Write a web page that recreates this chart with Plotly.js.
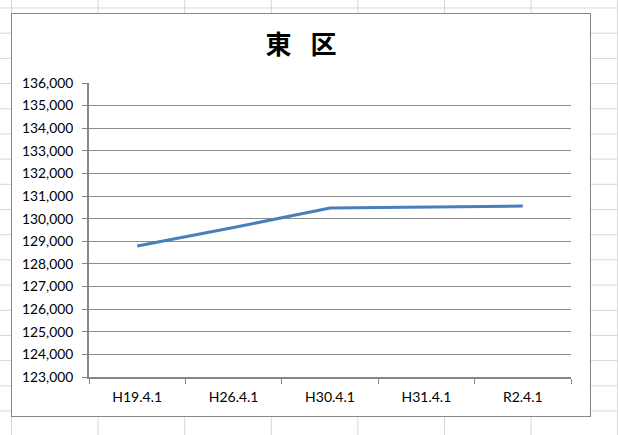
<!DOCTYPE html>
<html>
<head>
<meta charset="utf-8">
<script src="https://cdn.plot.ly/plotly-3.0.1.min.js"></script>
<style>
  html, body { margin:0; padding:0; width:618px; height:435px; overflow:hidden; }
  body {
    background-color:#ffffff;
    background-image:
      linear-gradient(to right, #d6d6d6 1px, transparent 1px),
      linear-gradient(to bottom, #d6d6d6 1px, transparent 1px);
    background-size: 86.6px 25.2px;
    background-position: 11px 7.5px;
  }
  #box {
    position:absolute; left:11px; top:13px;
    width:578px; height:402px;
    border:1px solid #868686;
    background:#ffffff;
  }
  #chart { width:578px; height:402px; }
</style>
</head>
<body>
<div id="box"><div id="chart"></div></div>
<script>
const categories = ["H19.4.1", "H26.4.1", "H30.4.1", "H31.4.1", "R2.4.1"];
const population = [128790, 129610, 130470, 130520, 130560];
const titleText = "東\u2002 区";

const trace = {
  x: categories,
  y: population,
  type: "scatter",
  mode: "lines",
  line: { color: "#4a7ebb", width: 3 },
  hoverinfo: "skip"
};

const layout = {
  width: 578,
  height: 402,
  margin: { l: 77, r: 19, t: 69, b: 39 },
  paper_bgcolor: "rgba(0,0,0,0)",
  plot_bgcolor: "#ffffff",
  showlegend: false,
  title: {
    text: titleText,
    font: { family: "Noto Sans CJK JP", size: 26, color: "#000000", weight: 700 },
    x: 0.5, xanchor: "center",
    y: 1 - 31/402, yanchor: "middle"
  },
  font: { family: "Lato, 'Liberation Sans', sans-serif", size: 13, color: "#000000" },
  xaxis: {
    type: "category",
    range: [-0.5, 4.5],
    tickson: "boundaries",
    ticks: "outside",
    ticklen: 5,
    tickwidth: 1,
    tickcolor: "#868686",
    showline: true,
    linecolor: "#868686",
    linewidth: 2,
    showgrid: false,
    zeroline: false,
    ticklabelstandoff: 6,
    tickfont: { size: 14 }
  },
  yaxis: {
    range: [123000, 136000],
    dtick: 1000,
    tick0: 123000,
    tickformat: ",d",
    ticks: "outside",
    ticklen: 5,
    tickwidth: 1,
    tickcolor: "#868686",
    showline: true,
    linecolor: "#868686",
    linewidth: 2,
    showgrid: true,
    gridcolor: "#8c8c8c",
    gridwidth: 1,
    zeroline: false,
    ticklabelstandoff: 6,
    tickfont: { size: 13.8 }
  }
};

Plotly.newPlot("chart", [trace], layout, { staticPlot: true, displayModeBar: false });
</script>
</body>
</html>
